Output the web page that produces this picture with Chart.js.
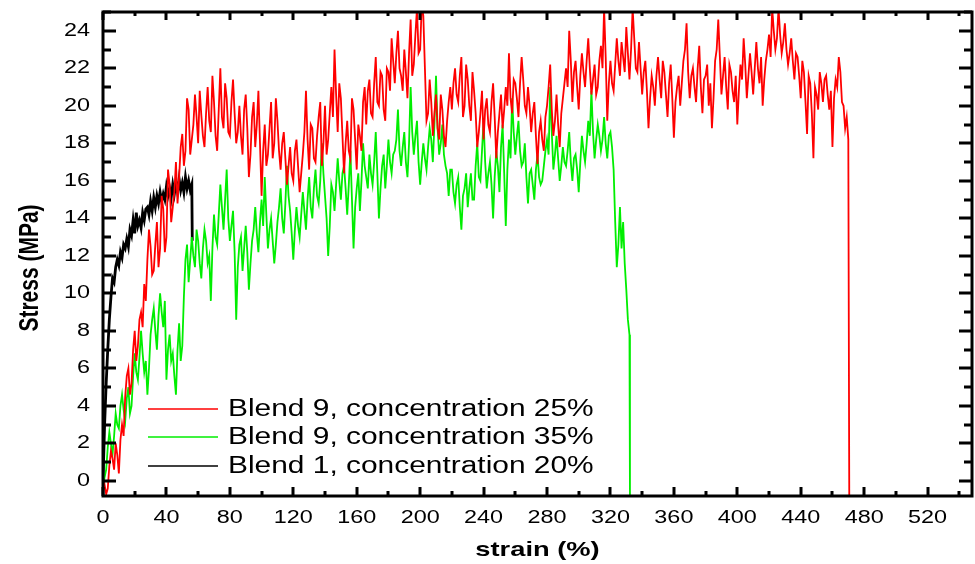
<!DOCTYPE html>
<html>
<head>
<meta charset="utf-8">
<script src="https://cdn.jsdelivr.net/npm/chart.js@4"></script>
<style>
  html, body { margin: 0; padding: 0; background: #fff; }
  #wrap { width: 975px; height: 564px; }
</style>
</head>
<body>
<div id="wrap"><canvas id="stressChart" width="975" height="564"></canvas></div>
<script>
// tick labels
var xTicks = [0, 40, 80, 120, 160, 200, 240, 280, 320, 360, 400, 440, 480, 520];
var yTicks = [0, 2, 4, 6, 8, 10, 12, 14, 16, 18, 20, 22, 24];

var seriesNames = ['Blend 9, concentration 25%', 'Blend 9, concentration 35%', 'Blend 1, concentration 20%'];

// Blend 9, 25% (red): strain 0..470 in steps of 1, then the break
var redStrain = [
  0, 1, 2, 3, 4, 5, 6, 7, 8, 9, 10, 11, 12, 13, 14, 15, 16, 17, 18, 19,
  20, 21, 22, 23, 24, 25, 26, 27, 28, 29, 30, 31, 32, 33, 34, 35, 36, 37, 38, 39,
  40, 41, 42, 43, 44, 45, 46, 47, 48, 49, 50, 51, 52, 53, 54, 55, 56, 57, 58, 59,
  60, 61, 62, 63, 64, 65, 66, 67, 68, 69, 70, 71, 72, 73, 74, 75, 76, 77, 78, 79,
  80, 81, 82, 83, 84, 85, 86, 87, 88, 89, 90, 91, 92, 93, 94, 95, 96, 97, 98, 99,
  100, 101, 102, 103, 104, 105, 106, 107, 108, 109, 110, 111, 112, 113, 114, 115, 116, 117, 118, 119,
  120, 121, 122, 123, 124, 125, 126, 127, 128, 129, 130, 131, 132, 133, 134, 135, 136, 137, 138, 139,
  140, 141, 142, 143, 144, 145, 146, 147, 148, 149, 150, 151, 152, 153, 154, 155, 156, 157, 158, 159,
  160, 161, 162, 163, 164, 165, 166, 167, 168, 169, 170, 171, 172, 173, 174, 175, 176, 177, 178, 179,
  180, 181, 182, 183, 184, 185, 186, 187, 188, 189, 190, 191, 192, 193, 194, 195, 196, 197, 198, 199,
  200, 201, 202, 203, 204, 205, 206, 207, 208, 209, 210, 211, 212, 213, 214, 215, 216, 217, 218, 219,
  220, 221, 222, 223, 224, 225, 226, 227, 228, 229, 230, 231, 232, 233, 234, 235, 236, 237, 238, 239,
  240, 241, 242, 243, 244, 245, 246, 247, 248, 249, 250, 251, 252, 253, 254, 255, 256, 257, 258, 259,
  260, 261, 262, 263, 264, 265, 266, 267, 268, 269, 270, 271, 272, 273, 274, 275, 276, 277, 278, 279,
  280, 281, 282, 283, 284, 285, 286, 287, 288, 289, 290, 291, 292, 293, 294, 295, 296, 297, 298, 299,
  300, 301, 302, 303, 304, 305, 306, 307, 308, 309, 310, 311, 312, 313, 314, 315, 316, 317, 318, 319,
  320, 321, 322, 323, 324, 325, 326, 327, 328, 329, 330, 331, 332, 333, 334, 335, 336, 337, 338, 339,
  340, 341, 342, 343, 344, 345, 346, 347, 348, 349, 350, 351, 352, 353, 354, 355, 356, 357, 358, 359,
  360, 361, 362, 363, 364, 365, 366, 367, 368, 369, 370, 371, 372, 373, 374, 375, 376, 377, 378, 379,
  380, 381, 382, 383, 384, 385, 386, 387, 388, 389, 390, 391, 392, 393, 394, 395, 396, 397, 398, 399,
  400, 401, 402, 403, 404, 405, 406, 407, 408, 409, 410, 411, 412, 413, 414, 415, 416, 417, 418, 419,
  420, 421, 422, 423, 424, 425, 426, 427, 428, 429, 430, 431, 432, 433, 434, 435, 436, 437, 438, 439,
  440, 441, 442, 443, 444, 445, 446, 447, 448, 449, 450, 451, 452, 453, 454, 455, 456, 457, 458, 459,
  460, 461, 462, 463, 464, 465, 466, 467, 468, 469, 470, 470.6
];
var redStress = [
  -0.5, -0.2, -0.7, -0.4, 0.8, 1.6, 1.2, 0.6, 2.0, 1.4, 0.4, 2.2, 3.0, 2.4, 4.5, 5.6, 6.0, 4.6, 5.2, 7.0,
  8.0, 6.4, 7.2, 8.6, 9.0, 8.2, 10.5, 9.6, 11.8, 13.4, 12.5, 11.0, 11.2, 12.6, 13.8, 11.4, 12.4, 15.2, 14.5, 12.2,
  13.0, 16.6, 15.8, 13.8, 14.6, 15.4, 17.0, 14.8, 16.2, 17.8, 18.5, 16.8, 17.6, 20.4, 19.8, 17.4, 18.2, 19.0, 20.6, 19.4,
  18.0, 20.8, 19.5, 18.4, 17.8, 19.6, 21.0, 19.2, 18.6, 21.6, 20.2, 18.4, 17.6, 19.8, 22.0, 19.4, 18.8, 21.2, 20.4, 18.6,
  18.4, 20.2, 21.4, 19.6, 18.0, 18.6, 20.0, 18.4, 17.4, 19.8, 20.6, 18.8, 16.2, 17.4, 19.4, 20.2, 17.8, 19.0, 20.8, 18.0,
  15.2, 17.6, 19.0, 16.8, 17.4, 18.8, 20.2, 17.2, 18.0, 20.4, 19.2, 17.6, 16.6, 18.0, 18.6, 17.2, 15.8, 16.8, 17.8, 16.4,
  16.0, 17.6, 18.2, 16.8, 15.4, 16.4, 17.4, 18.6, 20.8, 18.2, 16.6, 19.0, 18.8, 17.2, 17.0, 18.4, 19.4, 20.2, 16.8, 18.0,
  20.0, 17.4, 18.2, 19.6, 21.0, 19.4, 23.0, 20.6, 18.6, 21.2, 20.4, 18.4, 16.4, 18.0, 19.2, 17.6, 17.2, 20.4, 19.8, 18.2,
  16.6, 19.0, 18.4, 17.6, 20.2, 21.0, 19.0, 20.8, 21.4, 19.6, 19.4, 21.2, 22.6, 20.2, 20.0, 21.8, 21.6, 19.8, 19.2, 22.0,
  21.8, 20.8, 23.6, 22.4, 21.2, 22.8, 24.0, 22.0, 21.6, 20.8, 23.0, 21.8, 20.4, 22.8, 24.6, 21.6, 22.2, 23.8, 25.2, 22.8,
  23.0, 25.4, 24.8, 22.0, 19.2, 19.6, 21.4, 20.2, 18.4, 19.6, 20.6, 18.8, 18.2, 20.6, 19.8, 18.4, 17.8, 19.2, 20.2, 21.0,
  19.8, 21.2, 22.0, 20.6, 20.2, 21.6, 22.6, 19.4, 20.0, 22.2, 21.4, 20.0, 19.2, 21.8, 20.8, 19.6, 17.8, 18.6, 19.6, 20.8,
  18.2, 19.8, 20.4, 19.0, 18.6, 20.2, 21.2, 19.4, 17.2, 18.6, 19.6, 20.6, 18.8, 19.8, 21.0, 20.0, 22.8, 20.4, 19.6, 21.4,
  21.2, 20.4, 19.4, 21.2, 22.6, 21.4, 20.0, 19.6, 21.0, 20.0, 18.6, 19.6, 20.2, 18.4, 16.9, 18.6, 19.2, 18.2, 17.6, 19.4,
  20.0, 21.0, 22.2, 19.8, 18.4, 19.2, 20.6, 19.0, 17.8, 19.6, 20.4, 21.2, 22.0, 21.0, 24.0, 22.4, 20.2, 21.8, 22.4, 21.0,
  19.8, 21.6, 22.8, 21.8, 21.0, 22.4, 23.6, 22.0, 20.6, 21.4, 22.2, 20.6, 21.0, 22.4, 23.2, 22.0, 25.2, 22.6, 19.2, 21.2,
  22.4, 21.2, 20.8, 22.2, 23.6, 22.4, 21.6, 23.4, 22.6, 21.8, 24.2, 22.8, 21.4, 23.0, 25.2, 23.6, 22.0, 21.8, 23.4, 22.0,
  20.6, 21.8, 22.4, 20.8, 18.8, 20.4, 21.6, 21.0, 20.0, 21.6, 22.6, 21.4, 20.4, 22.4, 21.8, 20.6, 19.4, 21.2, 22.2, 20.4,
  18.3, 20.2, 21.0, 21.6, 20.0, 21.2, 22.4, 23.0, 24.4, 21.8, 20.4, 21.6, 22.0, 21.0, 20.2, 22.0, 23.2, 21.0, 19.6, 21.4,
  21.6, 22.2, 20.0, 21.2, 18.8, 20.4, 22.4, 23.0, 24.6, 22.6, 20.6, 21.6, 22.6, 21.0, 19.8, 22.2, 21.8, 20.8, 20.2, 21.6,
  19.0, 20.8, 22.2, 21.4, 23.6, 22.2, 20.4, 21.6, 22.8, 21.8, 20.6, 22.0, 23.4, 22.0, 21.2, 22.6, 20.0, 21.4, 22.4, 23.0,
  23.8, 22.6, 25.2, 24.0, 23.0, 23.6, 25.2, 23.8, 22.8, 23.4, 24.4, 23.0, 22.2, 22.8, 23.6, 22.4, 21.4, 22.8, 22.6, 21.6,
  20.4, 22.4, 21.8, 20.2, 18.5, 21.6, 21.2, 19.6, 17.2, 21.0, 20.6, 19.8, 21.8, 21.2, 20.2, 21.4, 21.6, 20.6, 19.8, 20.8,
  17.8, 20.4, 21.4, 21.0, 22.6, 21.8, 20.2, 20.0, 18.8, 19.4, 18.2, -0.8
];

// Blend 9, 35% (green): strain 0..332 in steps of 1, then the break
var greenStrain = [
  0, 1, 2, 3, 4, 5, 6, 7, 8, 9, 10, 11, 12, 13, 14, 15, 16, 17, 18, 19,
  20, 21, 22, 23, 24, 25, 26, 27, 28, 29, 30, 31, 32, 33, 34, 35, 36, 37, 38, 39,
  40, 41, 42, 43, 44, 45, 46, 47, 48, 49, 50, 51, 52, 53, 54, 55, 56, 57, 58, 59,
  60, 61, 62, 63, 64, 65, 66, 67, 68, 69, 70, 71, 72, 73, 74, 75, 76, 77, 78, 79,
  80, 81, 82, 83, 84, 85, 86, 87, 88, 89, 90, 91, 92, 93, 94, 95, 96, 97, 98, 99,
  100, 101, 102, 103, 104, 105, 106, 107, 108, 109, 110, 111, 112, 113, 114, 115, 116, 117, 118, 119,
  120, 121, 122, 123, 124, 125, 126, 127, 128, 129, 130, 131, 132, 133, 134, 135, 136, 137, 138, 139,
  140, 141, 142, 143, 144, 145, 146, 147, 148, 149, 150, 151, 152, 153, 154, 155, 156, 157, 158, 159,
  160, 161, 162, 163, 164, 165, 166, 167, 168, 169, 170, 171, 172, 173, 174, 175, 176, 177, 178, 179,
  180, 181, 182, 183, 184, 185, 186, 187, 188, 189, 190, 191, 192, 193, 194, 195, 196, 197, 198, 199,
  200, 201, 202, 203, 204, 205, 206, 207, 208, 209, 210, 211, 212, 213, 214, 215, 216, 217, 218, 219,
  220, 221, 222, 223, 224, 225, 226, 227, 228, 229, 230, 231, 232, 233, 234, 235, 236, 237, 238, 239,
  240, 241, 242, 243, 244, 245, 246, 247, 248, 249, 250, 251, 252, 253, 254, 255, 256, 257, 258, 259,
  260, 261, 262, 263, 264, 265, 266, 267, 268, 269, 270, 271, 272, 273, 274, 275, 276, 277, 278, 279,
  280, 281, 282, 283, 284, 285, 286, 287, 288, 289, 290, 291, 292, 293, 294, 295, 296, 297, 298, 299,
  300, 301, 302, 303, 304, 305, 306, 307, 308, 309, 310, 311, 312, 313, 314, 315, 316, 317, 318, 319,
  320, 321, 322, 323, 324, 325, 326, 327, 328, 329, 330, 331, 332, 332.3
];
var greenStress = [
  -0.4, 0.2, 0.6, 1.8, 2.6, 2.0, 1.4, 2.4, 3.6, 3.0, 2.8, 4.0, 4.6, 3.8, 3.2, 4.4, 5.0, 3.6, 4.0, 5.6,
  6.8, 5.8, 5.4, 6.6, 8.0, 6.8, 5.8, 6.4, 4.6, 6.0, 7.8, 8.6, 9.2, 8.0, 7.0, 8.8, 10.0, 9.0, 8.2, 9.6,
  5.4, 7.0, 7.8, 6.4, 6.8, 5.6, 4.6, 7.0, 8.4, 6.4, 7.2, 9.8, 11.8, 12.6, 10.6, 11.8, 13.0, 12.0, 11.4, 13.4,
  12.8, 11.6, 10.8, 12.4, 13.4, 12.8, 11.6, 12.0, 9.6, 12.4, 14.2, 13.0, 12.6, 14.2, 15.8, 14.6, 13.4, 15.0, 16.6, 14.0,
  12.8, 13.6, 14.4, 12.2, 8.6, 11.4, 12.6, 13.0, 11.2, 12.4, 13.6, 12.2, 10.2, 11.6, 12.8, 13.4, 14.6, 13.2, 12.2, 13.8,
  15.0, 13.6, 16.2, 14.2, 12.4, 13.4, 14.0, 12.8, 11.6, 12.6, 13.8, 14.6, 15.6, 14.0, 13.2, 14.8, 16.8, 15.2, 14.4, 13.2,
  11.8, 13.4, 14.6, 13.6, 13.0, 14.2, 15.4, 14.4, 13.4, 15.0, 16.2, 14.6, 14.0, 15.6, 16.6, 15.2, 14.8, 16.0, 18.0, 16.4,
  15.2, 14.0, 12.0, 13.6, 15.8, 15.4, 14.4, 15.8, 17.2, 16.0, 15.0, 16.4, 16.8, 15.6, 14.2, 15.8, 17.6, 15.0, 12.4, 14.6,
  15.6, 16.4, 14.4, 16.0, 18.0, 16.8, 16.2, 15.6, 17.4, 16.4, 15.8, 17.0, 18.6, 16.4, 14.0, 15.6, 16.8, 17.4, 15.6, 16.8,
  18.2, 17.0, 16.4, 17.4, 17.6, 18.2, 19.8, 17.6, 16.8, 17.8, 18.6, 17.0, 16.2, 18.0, 21.0, 18.6, 17.4, 18.4, 19.2, 17.0,
  15.8, 17.0, 18.0, 17.2, 16.6, 17.8, 18.8, 18.2, 17.0, 19.0, 21.6, 18.8, 17.4, 18.0, 19.0, 17.4, 16.8, 16.4, 15.2, 16.6,
  16.6, 15.4, 14.8, 15.8, 16.2, 14.6, 13.4, 15.2, 15.6, 16.4, 14.6, 15.6, 16.4, 15.0, 15.0, 16.8, 18.0, 16.2, 16.0, 17.6,
  19.2, 17.0, 15.6, 16.4, 17.0, 15.8, 14.0, 16.2, 17.6, 16.8, 15.4, 17.8, 19.0, 16.4, 13.6, 16.6, 18.2, 17.2, 20.4, 18.6,
  17.4, 18.4, 19.2, 17.6, 16.8, 17.0, 18.0, 16.2, 14.8, 16.4, 16.6, 15.8, 15.0, 16.6, 17.4, 16.2, 15.8, 16.0, 16.8, 17.6,
  18.2, 17.4, 21.0, 18.6, 16.6, 17.4, 18.4, 17.2, 16.0, 16.8, 17.8, 17.0, 16.8, 17.6, 18.6, 17.0, 16.0, 17.2, 17.4, 16.6,
  15.4, 17.0, 18.4, 17.6, 17.0, 18.0, 19.2, 18.4, 20.8, 18.6, 17.2, 18.2, 19.0, 18.4, 17.6, 18.2, 19.4, 18.0, 17.2, 18.4,
  18.6, 17.8, 16.6, 13.8, 11.4, 12.6, 14.6, 12.4, 13.8, 11.6, 10.2, 8.6, 7.8, -0.8
];

// Blend 1, 20% (black)
var blackStrain = [
  0, 1, 2, 3, 4, 5, 6, 7, 8, 9,
  10, 11, 12, 13, 14, 15, 16, 17, 18, 19,
  20, 21, 22, 23, 24, 25, 26, 27, 28, 29,
  30, 31, 32, 33, 34, 35, 36, 37, 38, 39,
  40, 41, 42, 43, 44, 45, 46, 47, 48, 49,
  50, 51, 52, 53, 54, 55, 56, 56.3
];
var blackStress = [
  0.0, 3.0, 5.2, 7.0, 8.6, 9.8, 10.8, 10.6, 11.4, 11.8,
  11.5, 12.2, 11.9, 12.6, 12.4, 12.9, 12.5, 13.4, 13.1, 13.9,
  13.2, 14.3, 13.6, 13.9, 13.5, 14.3, 13.9, 14.5, 14.6, 14.2,
  14.9, 14.4, 15.1, 14.6, 15.2, 14.8, 15.4, 14.9, 15.3, 15.0,
  15.7, 15.2, 15.6, 15.1, 15.8, 15.3, 15.9, 15.4, 16.1, 15.5,
  15.9, 15.4, 16.2, 15.6, 16.0, 15.5, 15.8, 12.8
];

function pairs(xs, ys) {
  return xs.map(function (v, i) { return { x: v, y: ys[i] }; });
}

var FONT = "'Liberation Sans', Arial, sans-serif";
// the reference picture is stretched sideways, so its text is wider than usual
var TEXT_STRETCH = 1.3;

function wideText(ctx, text, x, y, align) {
  ctx.save();
  ctx.translate(x, y);
  ctx.scale(TEXT_STRETCH, 1);
  ctx.textAlign = align;
  ctx.fillText(text, 0, 0);
  ctx.restore();
}

var framePlugin = {
  id: 'framePlugin',
  afterDraw: function (chart) {
    var ctx = chart.ctx;
    var a = chart.chartArea;
    var xs = chart.scales.x;
    var ys = chart.scales.y;
    ctx.save();
    ctx.strokeStyle = '#000';
    ctx.lineWidth = 3;
    ctx.lineCap = 'butt';

    // inward ticks, top and bottom
    for (var v = 0; v <= xs.max; v += 20) {
      var px = Math.round(xs.getPixelForValue(v));
      var major = v % 40 === 0;
      ctx.beginPath();
      ctx.moveTo(px, a.bottom);
      ctx.lineTo(px, a.bottom - (major ? 9 : 5));
      ctx.moveTo(px, a.top);
      ctx.lineTo(px, a.top + (major ? 8 : 4));
      ctx.stroke();
    }
    // inward ticks, left and right
    for (var w = 0; w <= ys.max; w += 1) {
      var py = Math.round(ys.getPixelForValue(w));
      var maj = w % 2 === 0;
      ctx.beginPath();
      ctx.moveTo(a.left, py);
      ctx.lineTo(a.left + (maj ? 13 : 8), py);
      ctx.moveTo(a.right, py);
      ctx.lineTo(a.right - (maj ? 13 : 8), py);
      ctx.stroke();
    }
    ctx.strokeRect(a.left, a.top, a.right - a.left, a.bottom - a.top);

    // tick labels
    ctx.fillStyle = '#000';
    ctx.textBaseline = 'middle';
    ctx.font = '18px ' + FONT;
    xTicks.forEach(function (t) {
      wideText(ctx, String(t), xs.getPixelForValue(t), a.bottom + 22, 'center');
    });
    yTicks.forEach(function (t) {
      wideText(ctx, String(t), a.left - 13, ys.getPixelForValue(t), 'right');
    });

    // axis titles
    ctx.font = 'bold 21px ' + FONT;
    wideText(ctx, 'strain (%)', (a.left + a.right) / 2, 550, 'center');
    ctx.save();
    ctx.translate(30, 268);
    ctx.scale(TEXT_STRETCH, 1);
    ctx.rotate(-Math.PI / 2);
    ctx.textAlign = 'center';
    ctx.fillText('Stress (MPa)', 0, 0);
    ctx.restore();

    // legend inside the plot
    var colors = ['#ff0000', '#00ee00', '#000000'];
    var rows = [409, 437, 466];
    ctx.font = '23px ' + FONT;
    for (var i = 0; i < seriesNames.length; i++) {
      ctx.strokeStyle = colors[i];
      ctx.lineWidth = 1.5;
      ctx.beginPath();
      ctx.moveTo(148, rows[i]);
      ctx.lineTo(218, rows[i]);
      ctx.stroke();
      wideText(ctx, seriesNames[i], 228, rows[i] + 1, 'left');
    }
    ctx.restore();
  }
};

var ctx = document.getElementById('stressChart').getContext('2d');
var stressChart = new Chart(ctx, {
  type: 'line',
  data: {
    datasets: [{
      label: seriesNames[0],
      data: pairs(redStrain, redStress),
      borderColor: '#ff0000',
      borderWidth: 1.8
    }, {
      label: seriesNames[1],
      data: pairs(greenStrain, greenStress),
      borderColor: '#00ee00',
      borderWidth: 1.8
    }, {
      label: seriesNames[2],
      data: pairs(blackStrain, blackStress),
      borderColor: '#000000',
      borderWidth: 2.8
    }]
  },
  options: {
    responsive: false,
    animation: false,
    events: [],
    elements: { point: { radius: 0 }, line: { tension: 0 } },
    layout: { padding: { left: 0, right: 3, top: 12, bottom: 0 } },
    plugins: { legend: { display: false }, tooltip: { enabled: false } },
    scales: {
      x: {
        type: 'linear',
        min: 0,
        max: 548,
        grid: { display: false, drawTicks: false },
        border: { display: false },
        afterFit: function (scale) { scale.height = 68; },
        ticks: { display: false }
      },
      y: {
        type: 'linear',
        min: -0.8,
        max: 25,
        grid: { display: false, drawTicks: false },
        border: { display: false },
        afterFit: function (scale) { scale.width = 103; },
        ticks: { display: false }
      }
    }
  },
  plugins: [framePlugin]
});
</script>
</body>
</html>
